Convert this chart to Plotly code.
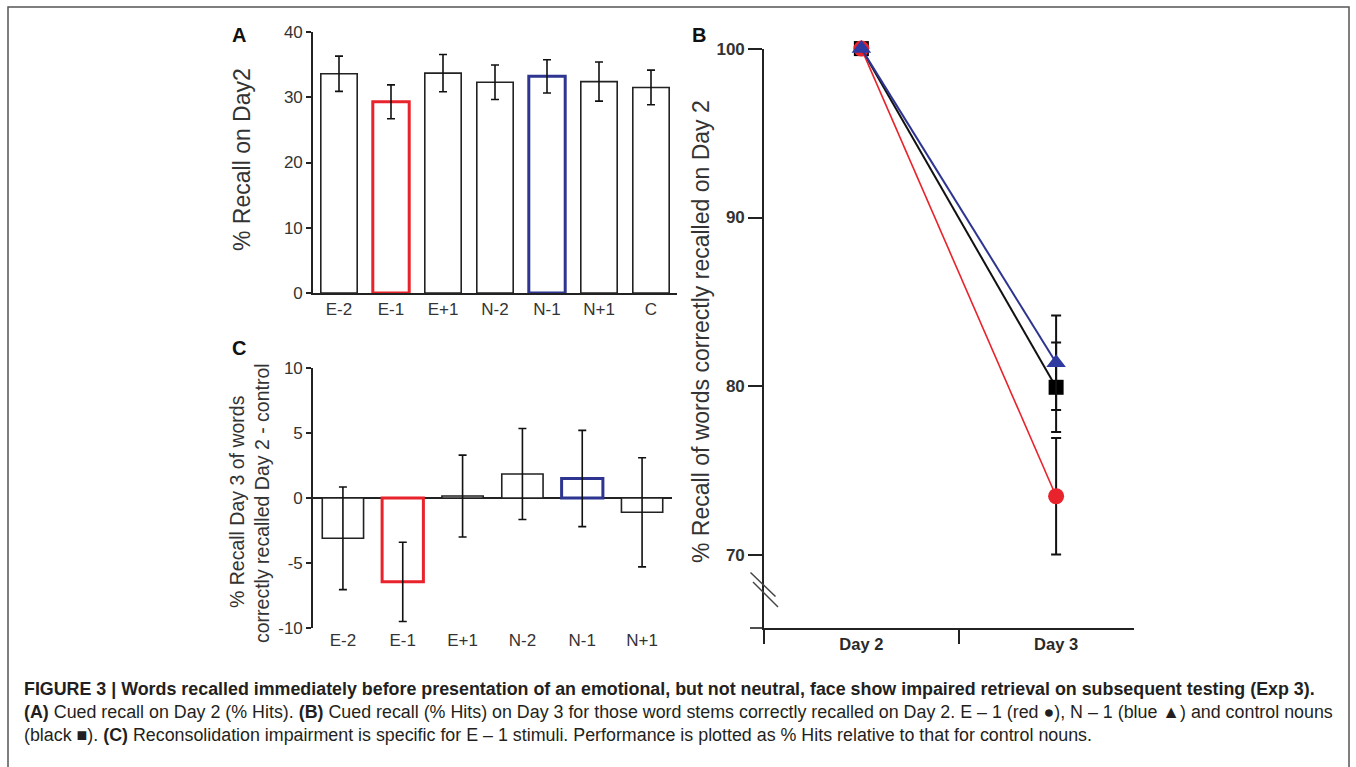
import plotly.graph_objects as go

W, H = 1356, 767

# ---------------- data ----------------
cats_a = ["E-2", "E-1", "E+1", "N-2", "N-1", "N+1", "C"]
recall_day2 = [33.6, 29.3, 33.7, 32.3, 33.2, 32.4, 31.5]
recall_day2_sem = [2.7, 2.6, 2.85, 2.65, 2.55, 3.0, 2.65]
ticks_a = [0, 10, 20, 30, 40]

cats_c = ["E-2", "E-1", "E+1", "N-2", "N-1", "N+1"]
diff_day3 = [-3.1, -6.45, 0.15, 1.85, 1.5, -1.1]
diff_day3_sem = [3.95, 3.05, 3.15, 3.5, 3.7, 4.2]
ticks_c = [-10, -5, 0, 5, 10]
ticklabels_c = ["-10", "-5", "0", "5", "10"]

days = ["Day 2", "Day 3"]
control_b = [100, 79.95]
control_b_sem = [0, 2.65]
e1_b = [100, 73.5]
e1_b_sem = [0, 3.45]
n1_b = [100, 81.4]
n1_b_sem = [0, 2.8]
ticks_b = [70, 80, 90, 100]

RED = "#e8232b"
NAVY = "#2d3590"
TXT = "#2a2a2a"
FONT = "Liberation Sans, Arial, sans-serif"

def px(x):
    return x / W

def py(y):
    return 1 - y / H

bar_line_a = ["#222", RED, "#222", "#222", NAVY, "#222", "#222"]
bar_lw_a = [1.6, 3, 1.6, 1.6, 3, 1.6, 1.6]
bar_line_c = ["#222", RED, "#222", "#222", NAVY, "#222"]
bar_lw_c = [1.6, 3, 1.6, 1.6, 3, 1.6]

fig = go.Figure()

# Panel A
fig.add_trace(go.Bar(
    x=cats_a, y=recall_day2, width=0.7,
    marker=dict(color="white", line=dict(color=bar_line_a, width=bar_lw_a)),
    error_y=dict(type="data", array=recall_day2_sem, color="#111", thickness=1.6, width=4),
    xaxis="x", yaxis="y", showlegend=False,
))

# Panel C
fig.add_trace(go.Bar(
    x=cats_c, y=diff_day3, width=0.69,
    marker=dict(color="white", line=dict(color=bar_line_c, width=bar_lw_c)),
    error_y=dict(type="data", array=diff_day3_sem, color="#111", thickness=1.6, width=4),
    xaxis="x3", yaxis="y3", showlegend=False,
))

# Panel B
fig.add_trace(go.Scatter(
    x=days, y=control_b, mode="lines+markers",
    line=dict(color="#111", width=2),
    marker=dict(symbol="square", size=15, color="#000"),
    error_y=dict(type="data", array=control_b_sem, color="#111", thickness=2, width=5),
    xaxis="x2", yaxis="y2", showlegend=False, cliponaxis=False,
))
fig.add_trace(go.Scatter(
    x=days, y=e1_b, mode="lines+markers",
    line=dict(color=RED, width=1.6),
    marker=dict(symbol="circle", size=16, color=RED),
    error_y=dict(type="data", array=e1_b_sem, color="#111", thickness=2, width=5),
    xaxis="x2", yaxis="y2", showlegend=False, cliponaxis=False,
))
fig.add_trace(go.Scatter(
    x=days, y=n1_b, mode="lines+markers",
    line=dict(color=NAVY, width=2),
    marker=dict(symbol="triangle-up", size=17, color="#2e3aa0"),
    error_y=dict(type="data", array=n1_b_sem, color="#111", thickness=2, width=5),
    xaxis="x2", yaxis="y2", showlegend=False, cliponaxis=False,
))

axis_font = dict(family=FONT, size=17, color="#333")
common = dict(automargin=False, showgrid=False)

fig.update_layout(
    template="none",
    width=W, height=H, autosize=False,
    margin=dict(l=0, r=0, t=0, b=0, pad=0, autoexpand=False),
    paper_bgcolor="white", plot_bgcolor="white",
    font=dict(family=FONT, color=TXT),
    xaxis=dict(domain=[px(313), px(677)], anchor="y", type="category",
               range=[-0.5, 6.5], showline=True, linecolor="#222", linewidth=1.6,
               ticks="", tickfont=axis_font, zeroline=False, **common),
    yaxis=dict(domain=[py(293), py(32)], anchor="x", range=[0, 40],
               tickvals=ticks_a, showline=True, linecolor="#222",
               linewidth=1.6, ticks="outside", ticklen=5, tickwidth=1.6,
               tickcolor="#222", tickfont=axis_font, zeroline=False, **common),
    xaxis3=dict(domain=[px(313), px(672)], anchor="y3", type="category",
                range=[-0.5, 5.5], showline=False, ticks="",
                tickfont=axis_font, zeroline=False, **common),
    yaxis3=dict(domain=[py(628), py(368)], anchor="x3", range=[-10, 10],
                tickvals=ticks_c, ticktext=ticklabels_c, showline=True, linecolor="#222",
                linewidth=1.6, ticks="outside", ticklen=5, tickwidth=1.6,
                tickcolor="#222", tickfont=axis_font,
                zeroline=True, zerolinecolor="#222", zerolinewidth=1.6, **common),
    xaxis2=dict(domain=[px(764), px(1134)], anchor="y2", type="category",
                range=[-0.5, 1.4], showline=True, linecolor="#222", linewidth=1.6,
                ticks="outside", ticklen=14, tickwidth=1.6, tickcolor="#222",
                tickson="boundaries",
                tickfont=dict(family=FONT, size=16.5, color=TXT, weight="bold"),
                zeroline=False, **common),
    yaxis2=dict(domain=[py(628), py(48.6)], anchor="x2", range=[65.7, 100],
                tickvals=ticks_b, showline=True, linecolor="#222",
                linewidth=1.6, ticks="outside", ticklen=14, tickwidth=1.6,
                tickcolor="#222",
                tickfont=dict(family=FONT, size=17, color="#333", weight="bold"),
                zeroline=False, **common),
)

shapes = [
    # figure frame
    dict(type="rect", xref="paper", yref="paper", x0=px(8), y0=py(800), x1=px(1349), y1=py(7),
         line=dict(color="#555", width=1.5), fillcolor="rgba(0,0,0,0)", layer="below"),
    # axis break in B
    dict(type="line", xref="paper", yref="paper", x0=px(750.5), y0=py(572.5), x1=px(775.5), y1=py(596.5),
         line=dict(color="#444", width=1.5)),
    dict(type="line", xref="paper", yref="paper", x0=px(753), y0=py(582), x1=px(778), y1=py(607),
         line=dict(color="#444", width=1.5)),
    # x axis extension left of y axis in B
    dict(type="line", xref="paper", yref="paper", x0=px(750), y0=py(628), x1=px(764), y1=py(628),
         line=dict(color="#222", width=1.6)),
]
fig.update_layout(shapes=shapes)

title_font = dict(family=FONT, size=23, color="#333")
letter_font = dict(family=FONT, size=20, color="#111", weight="bold")

annotations = [
    dict(text="A", x=px(239), y=py(35), font=letter_font),
    dict(text="B", x=px(699), y=py(35), font=letter_font),
    dict(text="C", x=px(239), y=py(348), font=letter_font),
    dict(text="% Recall on Day2", x=px(242), y=py(160), textangle=-90, font=title_font),
    dict(text="% Recall Day 3 of words", x=px(237), y=py(502), textangle=-90,
         font=dict(title_font, size=19.5)),
    dict(text="correctly recalled Day 2 - control", x=px(262), y=py(503), textangle=-90,
         font=dict(title_font, size=19.5)),
    dict(text="% Recall of words correctly recalled on Day 2", x=px(701), y=py(332),
         textangle=-90, font=title_font),
]
for a in annotations:
    a.update(xref="paper", yref="paper", showarrow=False, xanchor="center", yanchor="middle")

cap_font = dict(family=FONT, size=17.85, color="#231f20")
cap_lines = [
    ("<b>FIGURE 3 | Words recalled immediately before presentation of an emotional, but not neutral, "
     "face show impaired retrieval on subsequent testing (Exp 3).</b>", 689),
    ("<b>(A)</b> Cued recall on Day 2 (% Hits). <b>(B)</b> Cued recall (% Hits) on Day 3 for those word stems "
     "correctly recalled on Day 2. E – 1 (red ●), N – 1 (blue ▲) and control nouns", 712),
    ("(black ■). <b>(C)</b> Reconsolidation impairment is specific for E – 1 stimuli. Performance is "
     "plotted as % Hits relative to that for control nouns.", 735),
]
for t, yy in cap_lines:
    annotations.append(dict(text=t, x=px(22), y=py(yy), xref="paper", yref="paper",
                            showarrow=False, xanchor="left", yanchor="middle", font=cap_font))

fig.update_layout(annotations=annotations)

fig.write_html(
    "out.html",
    config={"displayModeBar": False},
    post_script=(
        "document.documentElement.style.margin='0';"
        "document.body.style.margin='0';document.body.style.overflow='hidden';"
        "var d=document.getElementById('{plot_id}');"
        "d.style.position='fixed';d.style.top='0px';d.style.left='0px';"
    ),
)
